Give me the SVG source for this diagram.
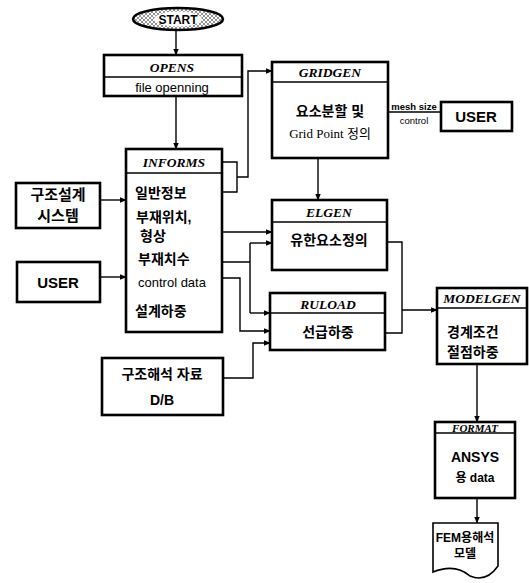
<svg xmlns="http://www.w3.org/2000/svg" width="529" height="583" viewBox="0 0 529 583">
<style>
.box{fill:#fff;stroke:#000;stroke-width:2.6}
.div{stroke:#000;stroke-width:1.4}
.hd{font-family:"Liberation Serif",serif;font-weight:bold;font-style:italic;font-size:13.5px;text-anchor:middle}
.tx{font-family:"Liberation Sans","Noto Sans CJK KR",sans-serif;font-weight:bold;font-size:14px}
.c{text-anchor:middle}
.sm{font-family:"Liberation Sans","Noto Sans CJK KR",sans-serif;font-size:13px;text-anchor:middle}
.ser{font-family:"Liberation Serif","Noto Sans CJK KR",serif;font-size:13px;text-anchor:middle}
.cn{fill:none;stroke:#000;stroke-width:1.4}
</style>
<defs>
<marker id="ar" viewBox="0 0 10 10" refX="9" refY="5" markerWidth="7" markerHeight="7" orient="auto" markerUnits="userSpaceOnUse">
<path d="M0,1 L10,5 L0,9 z" fill="#000"/>
</marker>
<pattern id="hatch" width="4" height="4" patternUnits="userSpaceOnUse">
<rect width="4" height="4" fill="#fff"/>
<path d="M0,0 L4,4 M4,0 L0,4" stroke="#777" stroke-width="0.8"/>
</pattern>
</defs>

<g id="connectors">
<path class="cn" d="M176,30 V55" marker-end="url(#ar)"/>
<path class="cn" d="M176,96 V149" marker-end="url(#ar)"/>
<path class="cn" d="M222,162 H237 V192 H222 M237,177 H248 V71 H272" marker-end="url(#ar)"/>
<path class="cn" d="M388,112 H441"/>
<path class="cn" d="M318,158 V200" marker-end="url(#ar)"/>
<path class="cn" d="M100,200 H126" marker-end="url(#ar)"/>
<path class="cn" d="M100,277 H126" marker-end="url(#ar)"/>
<path class="cn" d="M222,232 H272" marker-end="url(#ar)"/>
<path class="cn" d="M222,262 H250 M250,243 V313"/>
<path class="cn" d="M250,243 H272" marker-end="url(#ar)"/>
<path class="cn" d="M250,313 H270" marker-end="url(#ar)"/>
<path class="cn" d="M222,278 H240 V331 H270" marker-end="url(#ar)"/>
<path class="cn" d="M223,378 H253 V343 H270" marker-end="url(#ar)"/>
<path class="cn" d="M387,242 H402 V333 H385"/>
<path class="cn" d="M402,310 H437" marker-end="url(#ar)"/>
<path class="cn" d="M477,364 V422" marker-end="url(#ar)"/>
<path class="cn" d="M477,498 V523" marker-end="url(#ar)"/>
<text x="414" y="110" class="sm" style="font-size:9.5px;font-weight:bold">mesh size</text>
<text x="414" y="124" class="sm" style="font-size:9.5px">control</text>
</g>

<g id="start">
<ellipse cx="178" cy="19" rx="45" ry="11" fill="url(#hatch)" stroke="#000" stroke-width="2.6"/>
<ellipse cx="178" cy="19" rx="24" ry="7.5" fill="#fff"/>
<text x="178" y="24" class="tx c" style="font-size:12px">START</text>
</g>

<g id="opens">
<rect class="box" x="104" y="55" width="138" height="41"/>
<line class="div" x1="104" y1="77" x2="242" y2="77"/>
<text x="172" y="72" class="hd">OPENS</text>
<text x="172" y="92" class="sm">file openning</text>
</g>

<g id="informs">
<rect class="box" x="126" y="149" width="96" height="183"/>
<line class="div" x1="126" y1="173" x2="222" y2="173"/>
<text x="174" y="167" class="hd">INFORMS</text>
<text x="135" y="198" class="tx">일반정보</text>
<text x="136" y="222" class="tx">부재위치,</text>
<text x="140" y="241" class="tx">형상</text>
<text x="138" y="264" class="tx">부재치수</text>
<text x="138" y="287" class="sm" style="text-anchor:start">control data</text>
<text x="135" y="316" class="tx">설계하중</text>
</g>

<g id="structdesign">
<rect class="box" x="16" y="183" width="84" height="45"/>
<text x="58" y="200" class="tx c" style="font-size:15px">구조설계</text>
<text x="58" y="221" class="tx c" style="font-size:15px">시스템</text>
</g>

<g id="user1">
<rect class="box" x="17" y="262" width="83" height="40"/>
<text x="58" y="288" class="tx c" style="font-size:15px">USER</text>
</g>

<g id="gridgen">
<rect class="box" x="272" y="62" width="116" height="96"/>
<line class="div" x1="272" y1="82" x2="388" y2="82"/>
<text x="330" y="77" class="hd">GRIDGEN</text>
<text x="330" y="116" class="tx c">요소분할 및</text>
<text x="330" y="138" class="ser">Grid Point 정의</text>
</g>

<g id="user2">
<rect class="box" x="441" y="102" width="71" height="29"/>
<text x="476" y="122" class="tx c" style="font-size:15px">USER</text>
</g>

<g id="elgen">
<rect class="box" x="272" y="200" width="115" height="70"/>
<line class="div" x1="272" y1="222" x2="387" y2="222"/>
<text x="329" y="217" class="hd">ELGEN</text>
<text x="329" y="245" class="tx c">유한요소정의</text>
</g>

<g id="ruload">
<rect class="box" x="270" y="293" width="115" height="57"/>
<line class="div" x1="270" y1="313" x2="385" y2="313"/>
<text x="328" y="309" class="hd">RULOAD</text>
<text x="328" y="337" class="tx c">선급하중</text>
</g>

<g id="structdb">
<rect class="box" x="102" y="358" width="121" height="57"/>
<text x="162" y="379" class="tx c">구조해석 자료</text>
<text x="162" y="405" class="tx c">D/B</text>
</g>

<g id="modelgen">
<rect class="box" x="437" y="288" width="90" height="76"/>
<line class="div" x1="437" y1="308" x2="527" y2="308"/>
<text x="482" y="303" class="hd">MODELGEN</text>
<text x="447" y="337" class="tx">경계조건</text>
<text x="447" y="357" class="tx">절점하중</text>
</g>

<g id="format">
<rect class="box" x="435" y="422" width="80" height="76"/>
<line class="div" x1="435" y1="433" x2="515" y2="433"/>
<text x="475" y="432" class="hd" style="font-size:11px">FORMAT</text>
<text x="475" y="462" class="tx c">ANSYS</text>
<text x="475" y="482" class="tx c" style="font-size:12px">용 data</text>
</g>

<g id="femmodel">
<path d="M433,523 H498 V566 Q486,583 470,576 Q455,563 433,572 Z" fill="#fff" stroke="#000" stroke-width="1.6"/>
<text x="465" y="542" class="tx c" style="font-size:12px">FEM용해석</text>
<text x="465" y="558" class="tx c" style="font-size:12px">모델</text>
</g>
</svg>
